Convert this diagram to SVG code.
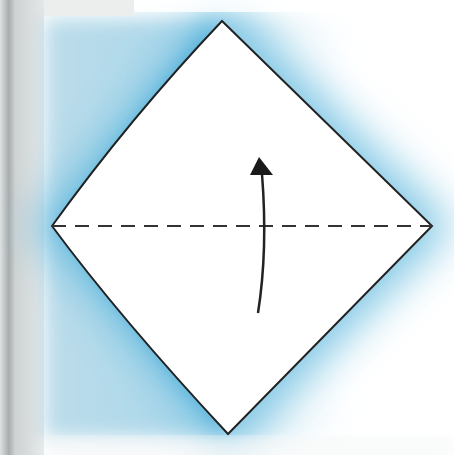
<svg xmlns="http://www.w3.org/2000/svg" width="454" height="455" viewBox="0 0 454 455">
  <defs>
    <filter id="blur" x="-30%" y="-30%" width="160%" height="160%">
      <feGaussianBlur stdDeviation="22"/>
    </filter>
    <filter id="blur2" x="-30%" y="-30%" width="160%" height="160%">
      <feGaussianBlur stdDeviation="10"/>
    </filter>
    <linearGradient id="strip" x1="0" y1="0" x2="1" y2="0">
      <stop offset="0" stop-color="#dfe2e2"/>
      <stop offset="0.2" stop-color="#a9adad"/>
      <stop offset="0.35" stop-color="#cfd3d3"/>
      <stop offset="1" stop-color="#e4e7e7"/>
    </linearGradient>
    <linearGradient id="wash" x1="0" y1="0" x2="1" y2="0">
      <stop offset="0" stop-color="#bcdcea"/>
      <stop offset="0.45" stop-color="#aad7ea"/>
      <stop offset="1" stop-color="#ffffff" stop-opacity="0"/>
    </linearGradient>
    <style>
      .edge{fill:#ffffff;stroke:#222;stroke-width:2}
      .fold{stroke:#333;stroke-width:2;stroke-dasharray:14 9;fill:none}
      .arrow{stroke:#222;stroke-width:2.5;fill:none}
    </style>
  </defs>
  <rect width="454" height="455" fill="#ffffff"/>
  <g id="background">
    <rect x="0" y="0" width="44" height="455" fill="url(#strip)"/>
    <rect x="44" y="18" width="330" height="420" fill="url(#wash)" filter="url(#blur2)"/>
    <path d="M222,0 L454,226 L228,454 L30,226 Z" fill="#6bbde0" filter="url(#blur)" opacity="0.85"/>
    <path d="M215,15 L58,226 L225,440 Z" fill="#2f9fd2" filter="url(#blur2)" opacity="0.55"/>
    <rect x="44" y="440" width="410" height="15" fill="#f4f6f6" filter="url(#blur2)"/>
    <rect x="44" y="0" width="410" height="12" fill="#ffffff" opacity="0.8"/>
    <rect x="44" y="0" width="90" height="16" fill="#eceeee"/>
  </g>
  <g id="paper">
    <path class="edge" d="M222,21 L432,226 L228,434 Q120,318 52,226 Q130,118 222,21 Z"/>
  </g>
  <g id="connectors">
    <line class="fold" x1="52" y1="226" x2="432" y2="226"/>
    <path class="arrow" d="M258,313 Q268,250 262,174"/>
    <polygon points="259,157 250,175 273,175" fill="#1a1a1a"/>
  </g>
</svg>
